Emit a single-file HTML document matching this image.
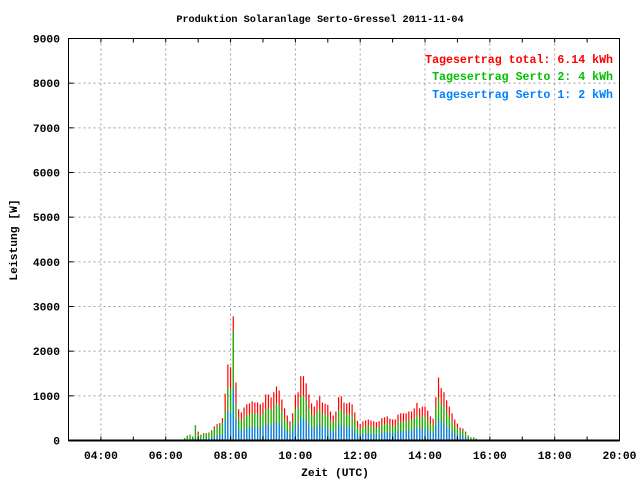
<!DOCTYPE html>
<html><head><meta charset="utf-8"><style>
body{margin:0;background:#fff}
svg{display:block;font-family:"Liberation Mono",monospace;font-weight:bold}
</style></head><body>
<svg id="c" width="640" height="480" viewBox="0 0 640 480">
<rect width="640" height="480" fill="#fff"/>
<text x="320" y="22" font-size="10.2" text-anchor="middle">Produktion Solaranlage Serto-Gressel 2011-11-04</text>
<g id="grid"></g>
<g id="bars"></g>
<g id="axes"></g>
<text x="613" y="63" font-size="11.6" text-anchor="end" fill="#ff0000">Tagesertrag total: 6.14 kWh</text>
<text x="613" y="80" font-size="11.6" text-anchor="end" fill="#00c000">Tagesertrag Serto 2: 4 kWh</text>
<text x="613" y="98" font-size="11.6" text-anchor="end" fill="#0080ff">Tagesertrag Serto 1: 2 kWh</text>
<text x="335" y="476" font-size="11.3" text-anchor="middle">Zeit (UTC)</text>
<text transform="translate(17,240) rotate(-90)" font-size="11.3" text-anchor="middle">Leistung [W]</text>
</svg>
<script>
const startMinutes = 390; // 06:30
const stepMinutes = 5;
const totalW = [20,50,110,130,90,340,200,130,165,165,180,225,315,365,390,500,1050,1700,1640,2780,1300,700,630,740,810,830,875,850,850,810,850,1030,1030,965,1080,1210,1120,920,720,560,430,610,1010,1080,1440,1440,1280,1030,830,760,900,990,850,
823,800,650,560,650,970,990,850,830,850,810,630,440,370,430,450,470,450,430,410,430,500,520,540,490,470,470,580,610,610,610,650,650,720,840,720,760,760,670,540,490,970,1410,1170,1080,900,760,610,470,380,290,270,200,110,70,70,45,20];
const serto1W = [0,0,20,30,20,60,40,30,40,40,50,60,90,110,120,150,450,650,600,1160,500,250,220,260,280,290,300,300,300,280,300,360,360,340,380,420,390,320,250,200,150,210,350,380,500,500,450,360,290,270,320,350,300,
290,280,230,200,230,340,350,300,290,300,280,220,150,130,150,160,160,160,150,140,150,180,180,190,170,160,160,200,210,210,210,230,230,250,290,250,270,270,230,190,170,340,500,410,380,320,270,210,160,140,120,110,80,40,20,20,10,0];
const serto2W = [20,50,90,100,70,280,100,90,110,110,110,140,180,200,210,250,200,550,550,1290,300,250,220,260,280,290,310,300,300,280,300,360,360,340,380,420,390,320,250,200,150,210,350,380,500,500,450,360,290,270,320,350,300,
290,280,230,200,230,340,350,300,290,300,280,220,150,130,150,160,160,160,150,140,150,180,180,190,170,160,160,200,210,210,210,230,230,250,290,250,270,270,230,190,170,400,450,400,380,320,270,210,160,140,110,110,90,70,50,50,35,20];
const yTicks = [0,1000,2000,3000,4000,5000,6000,7000,8000,9000];
const xTickLabels = ["04:00","06:00","08:00","10:00","12:00","14:00","16:00","18:00","20:00"];
const xTickHours = [4,6,8,10,12,14,16,18,20];

const L=68.5,R=619.5,T=38.5,B=440.5;
const xMin=3*60,xMax=20*60,yMax=9000;
const xs=m=>L+(m-xMin)/(xMax-xMin)*(R-L);
const ys=v=>B-v/yMax*(B-T);
const NS="http://www.w3.org/2000/svg";
function mk(tag,attrs,parent){const e=document.createElementNS(NS,tag);for(const k in attrs)e.setAttribute(k,attrs[k]);parent.appendChild(e);return e;}
const grid=document.getElementById('grid'),axes=document.getElementById('axes'),bars=document.getElementById('bars');
yTicks.forEach((v,i)=>{
  const y=ys(v);
  if(v>0&&v<yMax){const g=mk('line',{x1:L,x2:R,y1:y,y2:y,stroke:'#a0a0a0','stroke-dasharray':'2,3'},grid);
  
  }
  const t=mk('line',{x1:L,x2:L+5,y1:y,y2:y,stroke:'#000'},axes);
  
  
  const lb=mk('text',{x:60,y:y+4,'font-size':'11.3','text-anchor':'end'},axes);
  lb.textContent=v;
  
  
});
for(let h=4;h<20;h++){
  const x=xs(h*60);
  mk('line',{x1:x,x2:x,y1:B,y2:B-4,stroke:'#000'},axes);
  mk('line',{x1:x,x2:x,y1:T,y2:T+4,stroke:'#000'},axes);
}
xTickHours.forEach((h,i)=>{
  const x=xs(h*60);
  if(h<20){const g=mk('line',{x1:x,x2:x,y1:T,y2:B,stroke:'#a0a0a0','stroke-dasharray':'2,3'},grid);
  
  }
  const lb=mk('text',{x:x,y:459,'font-size':'11.3','text-anchor':'middle'},axes);
  lb.textContent=xTickLabels[i];
  
  
});
totalW.forEach((tot,i)=>{
  const x=xs(startMinutes+i*stepMinutes)-0.6;
  const b=serto1W[i],g=serto2W[i];
  const r=mk('rect',{x:x,width:1.2,y:ys(tot),height:ys(0)-ys(tot),fill:'#ff0000'},bars);
  
  
  const gr=mk('rect',{x:x,width:1.2,y:ys(Math.min(tot,b+g)),height:ys(0)-ys(Math.min(tot,b+g)),fill:'#00c000'},bars);
  
  
  const bl=mk('rect',{x:x,width:1.2,y:ys(b),height:ys(0)-ys(b),fill:'#0080ff'},bars);
  
  
});
const fr=mk('rect',{x:L,y:T,width:R-L,height:B-T,fill:'none',stroke:'#000','stroke-width':1},axes);


const base=mk('line',{x1:L,x2:R,y1:B,y2:B,stroke:'#000','stroke-width':2},axes);


</script>
</body></html>
